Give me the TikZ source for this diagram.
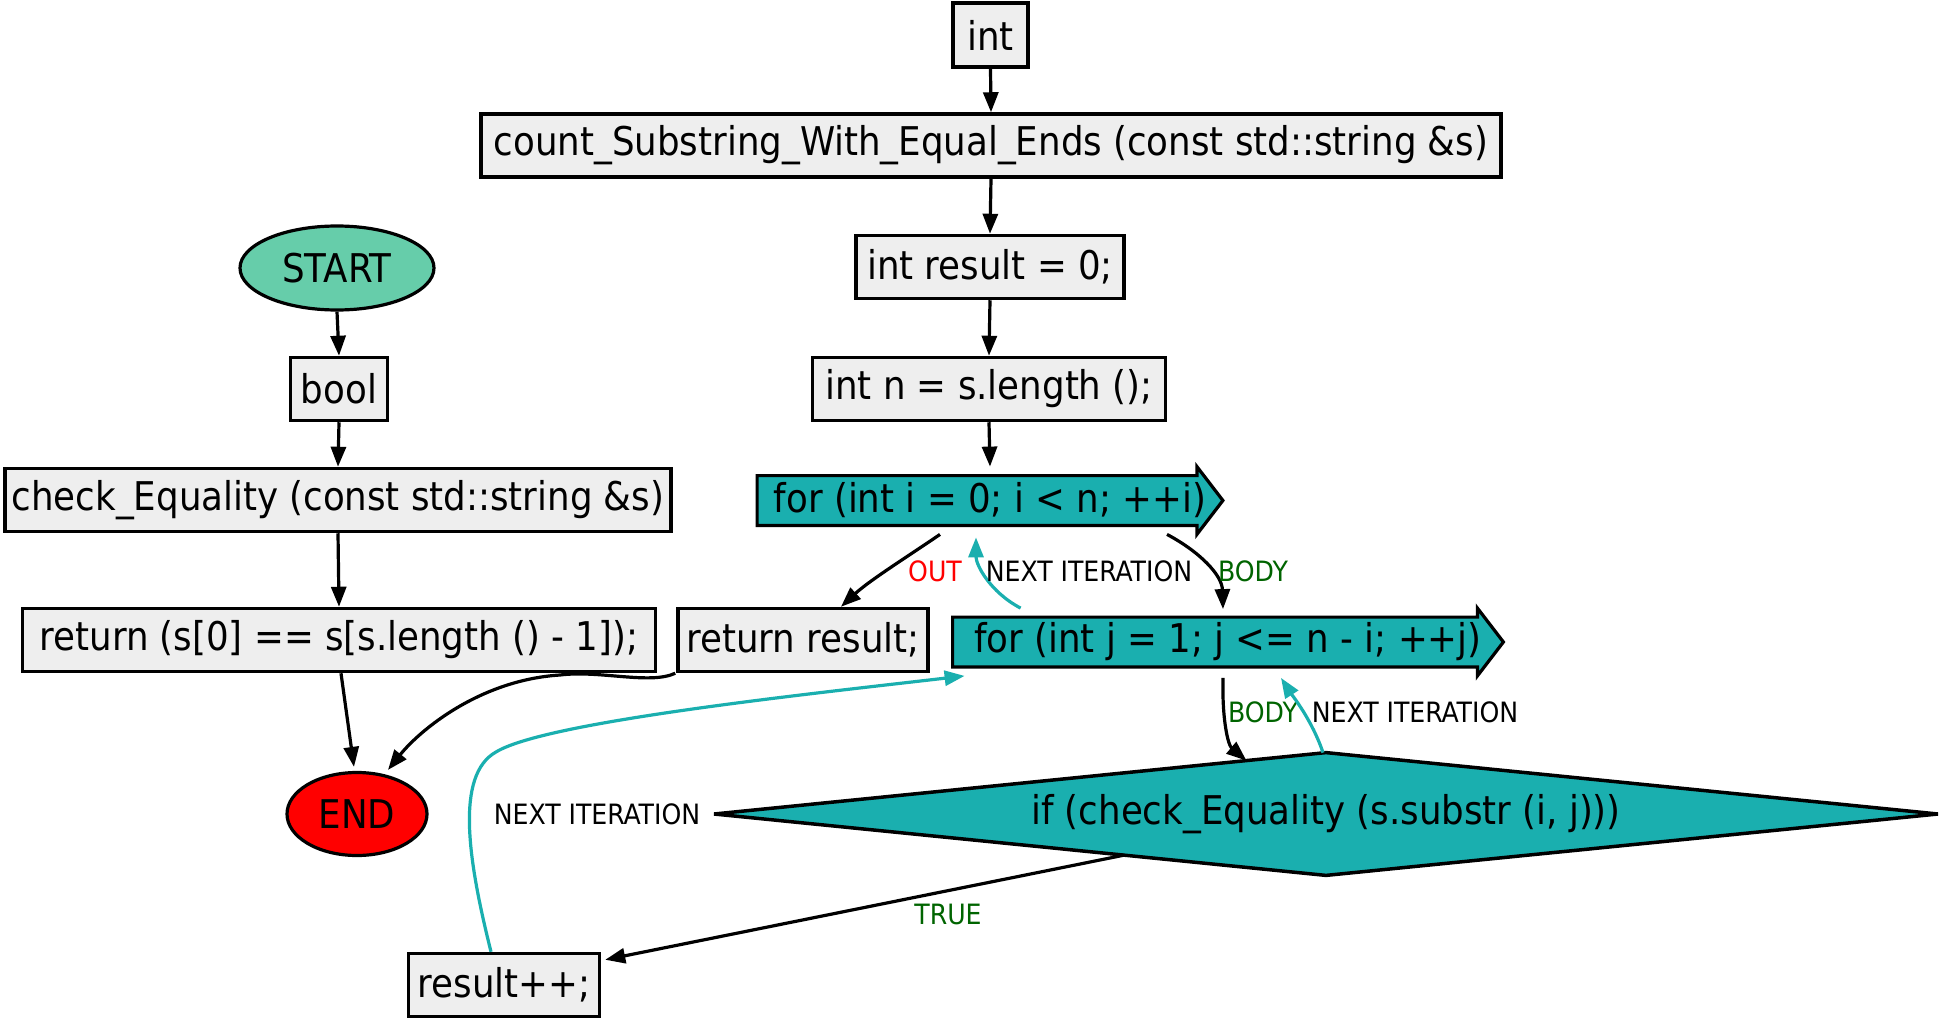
\documentclass[tikz,border=0pt]{standalone}
\usepackage{fontspec}
\setmainfont{DejaVu Sans Condensed}
\usetikzlibrary{shapes.geometric,arrows.meta,calc,backgrounds}
\definecolor{boxgray}{HTML}{EEEEEE}
\definecolor{teal1}{HTML}{1AAFAF}
\definecolor{startc}{HTML}{66CDAA}
\definecolor{dgreen}{HTML}{006400}
\begin{document}
\begin{tikzpicture}[x=0.5pt,y=-0.5pt,
  box/.style={draw, line width=1.75pt, fill=boxgray, inner sep=0pt, minimum height=31.5pt, font=\fontsize{19.8}{22}\selectfont},
  loopnode/.style={inner sep=0pt, minimum height=24.5pt, font=\fontsize{19.8}{22}\selectfont},
  loopshape/.style={draw, line width=1.6pt, fill=teal1},
  term/.style={ellipse, draw, line width=1.6pt, inner sep=0pt, font=\fontsize{19.8}{22}\selectfont},
  lab/.style={inner sep=0pt, font=\fontsize{14}{16}\selectfont},
  edge/.style={line width=1.6pt, -{Triangle[length=10pt,width=7.5pt]}},
  tedge/.style={line width=1.6pt, draw=teal1, -{Triangle[length=10pt,width=7.5pt]}, color=teal1},
]
\useasboundingbox (0,0) rectangle (1945,1022);

% right column
\node[box, minimum width=37.5pt, minimum height=32pt] (int) at (990.5,35) {int};
\node[box, minimum width=510pt] (count) at (991,145.5) {count\_Substring\_With\_Equal\_Ends (const std::string \&s)};
\node[box, minimum width=134pt] (res0) at (990,267) {int result = 0;};
\node[box, minimum width=176.5pt] (n) at (989,389) {int n = s.length ();};
\node[loopnode, minimum width=232.5pt] (fori) at (990,500.5) {for (int i = 0; i < n; ++i)};
\node[box, minimum width=125pt] (retres) at (803,640) {return result;};
\node[loopnode, minimum width=275pt] (forj) at (1228,642) {for (int j = 1; j <= n - i; ++j)};
\node[inner sep=0pt, minimum width=611.5pt, minimum height=61pt, font=\fontsize{19.8}{22}\selectfont] (dia) at (1326,814) {if (check\_Equality (s.substr (i, j)))};
\node[box, minimum width=95.5pt] (resinc) at (504,985) {result++;};

\begin{scope}[on background layer]
\draw[loopshape] (fori.north west) -- ($(fori.north east)+(-26,0)$) -- ($(fori.north east)+(-26,-9)$) -- (fori.east) -- ($(fori.south east)+(-26,9)$) -- ($(fori.south east)+(-26,0)$) -- (fori.south west) -- cycle;
\draw[loopshape] (forj.north west) -- ($(forj.north east)+(-26,0)$) -- ($(forj.north east)+(-26,-9)$) -- (forj.east) -- ($(forj.south east)+(-26,9)$) -- ($(forj.south east)+(-26,0)$) -- (forj.south west) -- cycle;
\draw[loopshape, line width=1.75pt] (dia.west) -- (dia.north) -- (dia.east) -- (dia.south) -- cycle;
\end{scope}

% left column
\node[term, fill=startc, minimum width=97pt, minimum height=42pt] (start) at (337,268) {START};
\node[box, minimum width=48.5pt] (bool) at (339,389) {bool};
\node[box, minimum width=333pt] (check) at (338,500) {check\_Equality (const std::string \&s)};
\node[box, minimum width=316.5pt] (ret0) at (339,640) {return (s[0] == s[s.length () - 1]);};
\node[term, fill=red, minimum width=70pt, minimum height=41.5pt] (end) at (357,814) {END};

% edges right column
\draw[edge] (int.south) -- (count.north);
\draw[edge] (count.south) -- (res0.north);
\draw[edge] (res0.south) -- (n.north);
\draw[edge] (n.south) -- ($(fori.north)+(0,-9)$);

\draw[edge] ($(fori.south)+(-50,9)$) .. controls (910,555) and (870,580) .. ($(retres.north)+(38,0)$);
\node[lab, text=red] (lout) at (935,571) {OUT};

\draw[tedge] ($(forj.north west)+(68,-9)$) .. controls (990,592) and (976,565) .. ($(fori.south)+(-14,12)$);
\node[lab] (lnext1) at (1089,571) {NEXT ITERATION};

\draw[edge] ($(fori.south)+(177,9)$) .. controls (1200,552) and (1222,575) .. ($(forj.north)+(-5,-8)$);
\node[lab, text=dgreen] (lbody1) at (1253,571) {BODY};

\draw[edge] ($(forj.south)+(-5,11)$) .. controls (1222,720) and (1228,745) .. ($(dia.north)!0.13!(dia.west)$);
\node[lab, text=dgreen] (lbody2) at (1263,712) {BODY};

\draw[tedge] ($(dia.north)+(-3,0)$) .. controls (1312,720) and (1292,695) .. ($(forj.south)+(53,11)$);
\node[lab] (lnext2) at (1415,712) {NEXT ITERATION};

\draw[edge] ($(dia.south)!0.33!(dia.west)$) -- ($(resinc.north east)+(4,8)$);
\node[lab, text=dgreen] (ltrue) at (948,914) {TRUE};

\draw[tedge] ($(resinc.north)+(-13,0)$) .. controls (468,860) and (455,775) .. (496,752) .. controls (545,722) and (800,695) .. ($(forj.south west)+(12,9)$);
\node[lab] (lnext3) at (597,814) {NEXT ITERATION};

% edges left column
\draw[edge] (start.south) -- (bool.north);
\draw[edge] (bool.south) -- (check.north);
\draw[edge] (check.south) -- (ret0.north);
\draw[edge] ($(ret0.south)+(2,0)$) -- ($(end.north)+(-3,-4)$);
\draw[edge] ($(retres.south west)+(-1,0)$) .. controls (650,685) and (600,670) .. (560,675) .. controls (480,680) and (420,730) .. ($(end.north)+(31,-1)$);
\end{tikzpicture}
\end{document}
